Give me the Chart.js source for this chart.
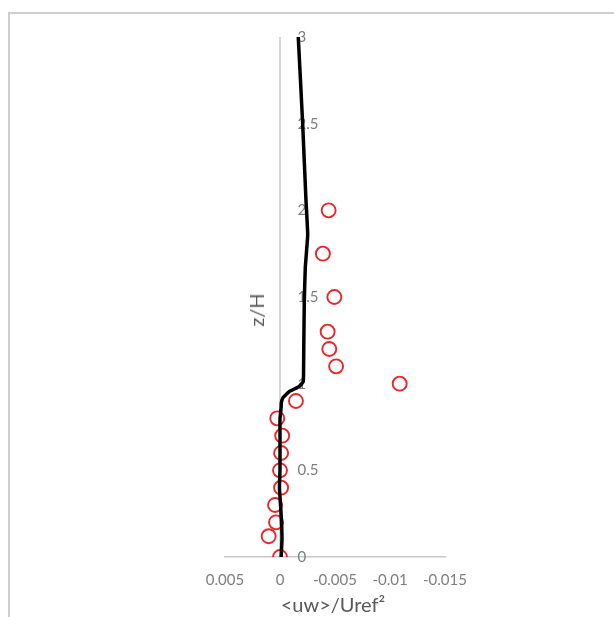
<!DOCTYPE html>
<html>
<head>
<meta charset="utf-8">
<script src="https://cdn.jsdelivr.net/npm/chart.js@4/dist/chart.umd.min.js"></script>
<style>
  html, body { margin: 0; padding: 0; background: #fff; }
  #wrap { position: relative; width: 614px; height: 617px; overflow: hidden; }
  #frame { position: absolute; left: 8px; top: 12px; width: 700px; height: 700px; border: 2px solid #cfcfcf; box-sizing: border-box; }
  #chart { position: absolute; left: 0; top: 0; }
  .title { position: absolute; font-family: Lato, "Open Sans", sans-serif; font-size: 20px; color: #595959; white-space: nowrap; }
  #xTitle { left: 333px; top: 604px; transform: translate(-50%, -50%); }
  #yTitle { left: 256px; top: 310px; transform: translate(-50%, -50%) rotate(-90deg); }
</style>
</head>
<body>
<div id="wrap">
  <div id="frame"></div>
  <canvas id="chart" width="614" height="617"></canvas>
  <div class="title" id="xTitle">&lt;uw&gt;/Uref²</div>
  <div class="title" id="yTitle">z/H</div>
</div>
<script>
// measured points (red circles)
const measZ = [0, 0.12, 0.2, 0.3, 0.4, 0.5, 0.6, 0.7, 0.8, 0.9, 1.0, 1.1, 1.2, 1.3, 1.5, 1.75, 2.0];
const measUW = [0, 0.00103, 0.00036, 0.00045, -0.0001, 0, -0.0001, -0.0002, 0.00025, -0.00145, -0.01088,
                -0.0051, -0.00448, -0.00433, -0.00494, -0.0039, -0.00442];

// simulated profile (black line)
const simZ = [0, 0.1, 0.2, 0.3, 0.4, 0.5, 0.6, 0.7, 0.8, 0.86, 0.89, 0.92, 0.955, 0.984, 1.01, 1.05,
              1.2, 1.48, 1.67, 1.86, 2.06, 2.5, 3.0];
const simUW = [-0.0001, -0.00018, -0.00014, -0.00005, 0.00005, 0, 0, 0, 0, -0.0001, -0.00012, -0.00028, -0.00085,
               -0.00175, -0.0021, -0.00214, -0.00216, -0.00221, -0.0023, -0.00252, -0.00236, -0.00206, -0.00166];

// vertical axis line at x = 0
const axisZ = [0, 3];
const axisUW = [0, 0];

const xMin = -0.015, xMax = 0.005, xStep = 0.005;
const yMin = 0, yMax = 3, yStep = 0.5;
const yLabelAt = -0.0016;   // y tick labels sit just right of the axis

const toXY = (xs, ys) => xs.map((v, i) => ({ x: v, y: ys[i] }));

// linear scale whose labels are left aligned (Excel style, right of the axis)
class LeftLabelScale extends Chart.LinearScale {
    _getYAxisLabelAlignment(tl) {
        const r = super._getYAxisLabelAlignment(tl);
        r.textAlign = 'left';
        return r;
    }
}
LeftLabelScale.id = 'linearLeftLabels';
LeftLabelScale.defaults = Chart.LinearScale.defaults;
Chart.register(LeftLabelScale);

const axisColor = '#c8c8c8';
const tickFont = { family: 'Lato, "Open Sans", sans-serif', size: 15 };

new Chart(document.getElementById('chart').getContext('2d'), {
    type: 'scatter',
    data: {
        datasets: [
            {
                label: 'sim',
                data: toXY(simUW, simZ),
                showLine: true,
                borderColor: '#000000',
                borderWidth: 3.5,
                pointRadius: 0,
                tension: 0.1,
                order: 0
            },
            {
                label: 'exp',
                data: toXY(measUW, measZ),
                pointStyle: 'circle',
                pointRadius: 7,
                pointBorderWidth: 1.9,
                pointBorderColor: '#e8262b',
                pointBackgroundColor: 'rgba(0,0,0,0)',
                order: 1
            },
            {
                label: 'axis',
                data: toXY(axisUW, axisZ),
                showLine: true,
                borderColor: axisColor,
                borderWidth: 1.5,
                pointRadius: 0,
                order: 2
            }
        ]
    },
    options: {
        responsive: false,
        animation: false,
        layout: { padding: { left: 225, right: 169, top: 37, bottom: 60 } },
        plugins: { legend: { display: false }, tooltip: { enabled: false } },
        scales: {
            x: {
                type: 'linear',
                position: { y: 0 },
                min: xMin, max: xMax, reverse: true,
                grid: { display: false, drawTicks: false },
                border: { display: true, color: axisColor, width: 1.5 },
                ticks: {
                    stepSize: xStep, padding: 14, color: '#7f7f7f', font: tickFont,
                    callback: v => String(+v.toFixed(3))
                }
            },
            y: {
                type: 'linearLeftLabels',
                position: { x: yLabelAt },
                min: yMin, max: yMax,
                grid: { display: false, drawTicks: false },
                border: { display: false },
                ticks: {
                    stepSize: yStep, color: '#7f7f7f', font: tickFont,
                    callback: v => String(+v.toFixed(1))
                }
            }
        }
    }
});
</script>
</body>
</html>
